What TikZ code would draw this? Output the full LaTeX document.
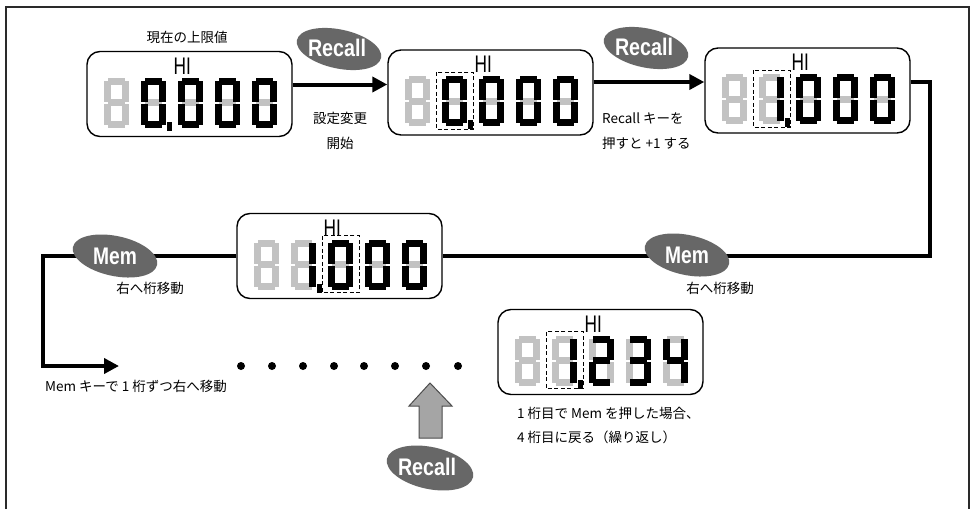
\documentclass[tikz,border=0pt]{standalone}
\usepackage{graphicx}
\usepackage{fontspec}
\setmainfont{Liberation Sans}
\newfontfamily\jp{Noto Sans CJK JP}
\usetikzlibrary{arrows.meta}
\definecolor{seggray}{HTML}{C2C2C2}
\definecolor{keygray}{HTML}{676767}
\definecolor{arrowgray}{HTML}{A5A5A5}
\definecolor{framecol}{HTML}{2A2A2A}
\tikzset{
  dispbox/.style={draw=black, line width=1.4pt, rounded corners=13pt, minimum width=205pt, minimum height=85pt, inner sep=0pt, fill=white},
  conn/.style={line width=4pt, line join=miter},
  keybg/.style={fill=keygray},
  keytext/.style={text=white, font=\bfseries\fontsize{24}{24}\selectfont, inner sep=0pt},
  lbl/.style={font=\jp\fontsize{13.5}{15}\selectfont, inner sep=0pt},
  hi/.style={font=\fontsize{24}{24}\selectfont, inner sep=0pt},
  dashbox/.style={draw=black, line width=1pt, dash pattern=on 4pt off 2.5pt},
  dotst/.style={circle, fill=black, minimum size=8pt, inner sep=0pt},
  tipst/.style={-{Triangle[length=15pt,width=15pt]}},
}
% seven segment pieces (cell 25 x 50, y downwards)
\def\sga{(4,0) rectangle (21,7)}
\def\sgb{(18,3) rectangle (25,24)}
\def\sgc{(18,26) rectangle (25,47)}
\def\sgd{(4,43) rectangle (21,50)}
\def\sge{(0,26) rectangle (7,47)}
\def\sgf{(0,3) rectangle (7,24)}
\def\sgg{(4,21.5) rectangle (21,28.5)}
\newcommand\graydigit[2]{%
  \begin{scope}[shift={(#1,#2)}]
    \foreach \s in {a,b,c,d,e,f,g}{\fill[seggray] \csname sg\s\endcsname;}
  \end{scope}}
\newcommand\digitat[3]{%
  \begin{scope}[shift={(#1,#2)}]
    \foreach \s in {a,b,c,d,e,f,g}{\fill[seggray] \csname sg\s\endcsname;}
    \foreach \s in {#3}{\fill[black] \csname sg\s\endcsname;}
  \end{scope}}
% #1 box name, #2..#5 lit segments of cells 2..5, #6 x offset of dashed cell (or empty)
\newcommand\display[6]{%
  \path (#1.north west) coordinate (#1o);
  \begin{scope}[shift={(#1o)}]
    \graydigit{18}{27}
    \digitat{55}{27}{#2}
    \digitat{92}{27}{#3}
    \digitat{129}{27}{#4}
    \digitat{166}{27}{#5}
    \fill[black] (81,71) rectangle (86,80);
    \node[hi] (#1hi) at (96,15) {\scalebox{0.72}[1]{HI}};
    \ifx&#6&\else
      \draw[dashbox] (#6-6,23) rectangle (#6+31,80);
    \fi
  \end{scope}}
\begin{document}
\begin{tikzpicture}[x=1pt, y=-1pt]
\useasboundingbox (0,0) rectangle (972,509);
\fill[white] (0,0) rectangle (972,509);
% frame
\draw[framecol, line width=2pt] (6,509) -- (6,7) -- (969,7) -- (969,509);

% display boxes
\node[dispbox] (d1) at (189.5,94) {};
\node[dispbox] (d2) at (490.5,92.5) {};
\node[dispbox] (d3) at (807.5,90.5) {};
\node[dispbox] (d4) at (339.5,256) {};
\node[dispbox] (d5) at (600.5,352) {};

% connectors
\draw[conn, tipst] ([yshift=9.5pt]d1.east) -- ([yshift=9.5pt]d1.east -| d2.west);
\draw[conn, tipst] ([yshift=10.5pt]d2.east) -- ([yshift=10.5pt]d2.east -| d3.west);
\coordinate (c1) at (930,256);
\coordinate (c2) at (43,366);
\coordinate (c3) at (119,366);
\draw[conn] ([yshift=8.5pt]d3.east) -| (c1) -- (d4.east);
\draw[conn, tipst] (d4.west) -| (c2) -- (c3);

% displays content
\display{d1}{a,b,c,d,e,f}{a,b,c,d,e,f}{a,b,c,d,e,f}{a,b,c,d,e,f}{}
\display{d2}{a,b,c,d,e,f}{a,b,c,d,e,f}{a,b,c,d,e,f}{a,b,c,d,e,f}{55}
\display{d3}{b,c}{a,b,c,d,e,f}{a,b,c,d,e,f}{a,b,c,d,e,f}{55}
\display{d4}{b,c}{a,b,c,d,e,f}{a,b,c,d,e,f}{a,b,c,d,e,f}{92}
\display{d5}{b,c}{a,b,g,e,d}{a,b,g,c,d}{f,g,b,c}{55}

% key ellipses
\coordinate (k1c) at (339,49);
\fill[keybg, rotate around={-12:(k1c)}] (k1c) ellipse [x radius=43pt, y radius=19.5pt];
\node[keytext] (k1) at (337,47.5) {\scalebox{0.82}[1]{Recall}};
\coordinate (k2c) at (646,48);
\fill[keybg, rotate around={-12:(k2c)}] (k2c) ellipse [x radius=43pt, y radius=19.5pt];
\node[keytext] (k2) at (644,47) {\scalebox{0.82}[1]{Recall}};
\coordinate (k3c) at (115,256);
\fill[keybg, rotate around={-12:(k3c)}] (k3c) ellipse [x radius=43pt, y radius=20pt];
\node[keytext] (k3) at (115,256) {\scalebox{0.8}[1]{Mem}};
\coordinate (k4c) at (687,255);
\fill[keybg, rotate around={-12:(k4c)}] (k4c) ellipse [x radius=43pt, y radius=20pt];
\node[keytext] (k4) at (687,255) {\scalebox{0.8}[1]{Mem}};
\coordinate (k5c) at (430,468);
\fill[keybg, rotate around={-12:(k5c)}] (k5c) ellipse [x radius=44pt, y radius=21pt];
\node[keytext] (k5) at (427,467) {\scalebox{0.82}[1]{Recall}};

% gray up arrow
\filldraw[fill=arrowgray, draw=black!70, line width=1pt] (430,383) -- (452,406) -- (442,406) -- (442,438) -- (419,438) -- (419,406) -- (409,406) -- cycle;

% dots
\foreach [count=\i] \x in {241,272,303,334,364,395,426,458} \node[dotst] (dot\i) at (\x,366) {};

% labels
\node[lbl] (t1) at (187,37) {現在の上限値};
\node[lbl] (t2) at (340,118) {設定変更};
\node[lbl] (t3) at (340,143) {開始};
\node[lbl, anchor=west] (t4) at (602,118) {Recall キーを};
\node[lbl, anchor=west] (t5) at (602,143) {押すと +1 する};
\node[lbl] (t6) at (150,288) {右へ桁移動};
\node[lbl] (t7) at (720,288) {右へ桁移動};
\node[lbl, anchor=west] (t8) at (45,386) {Mem キーで 1 桁ずつ右へ移動};
\node[lbl, anchor=west] (t9) at (517,413) {1 桁目で Mem を押した場合、};
\node[lbl, anchor=west] (t10) at (517,437) {4 桁目に戻る（繰り返し）};
\end{tikzpicture}
\end{document}
